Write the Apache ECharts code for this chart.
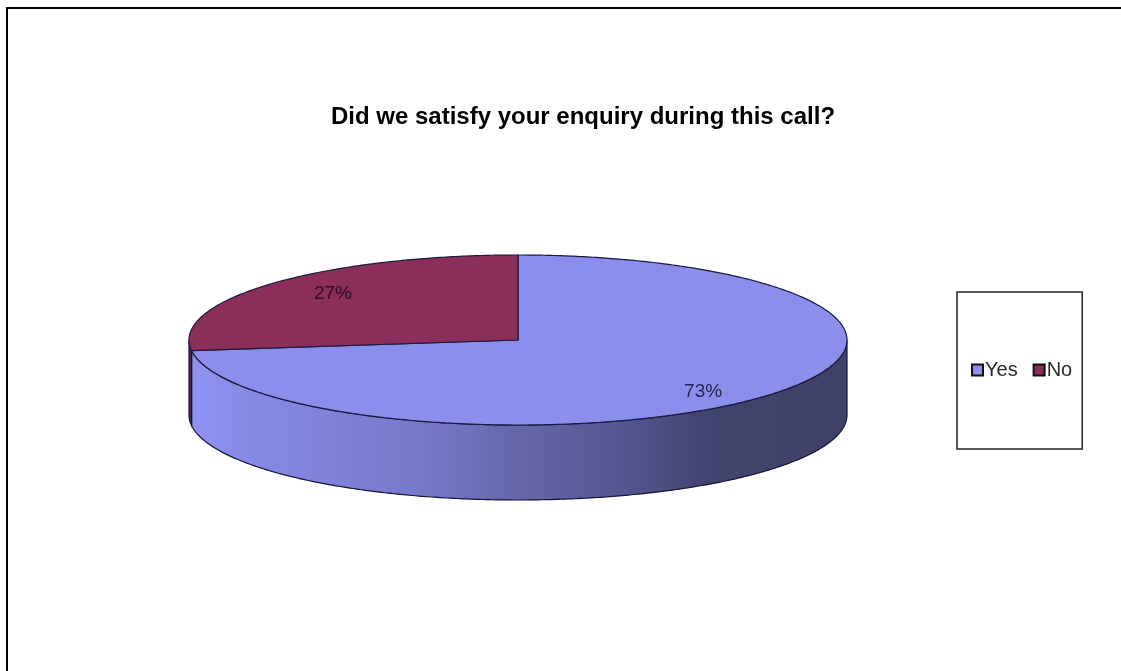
<!DOCTYPE html>
<html><head><meta charset="utf-8">
<style>html,body{margin:0;padding:0;background:#fff}#c{width:1121px;height:671px}</style>
<script src="https://cdn.jsdelivr.net/npm/echarts@6/dist/echarts.min.js"></script>
</head><body><div id="c"></div>
<script>
const categories = ['Yes', 'No'];
const shares = [73, 27];
const labels = ['73%', '27%'];
const colors = ['#8b8eea', '#8b2e5a'];
const wallStops = [
  [[0,'#8f92f0'],[0.12,'#8588e2'],[0.35,'#7779c9'],[0.5,'#6567aa'],[0.66,'#54568f'],[0.78,'#43446f'],[1,'#3f4066']],
  [[0,'#4a2a55'],[1,'#4a2a55']]
];
const CX = 518, CY = 340, RX = 329, RY = 85, DEPTH = 75;
const total = shares.reduce((a, b) => a + b, 0);

function pt(a, dy) { return [CX + RX * Math.sin(a), CY - RY * Math.cos(a) + (dy || 0)]; }
function arcPts(a0, a1, dy) {
  const n = Math.max(2, Math.ceil(Math.abs(a1 - a0) / 0.01)), out = [];
  for (let i = 0; i <= n; i++) out.push(pt(a0 + (a1 - a0) * i / n, dy));
  return out;
}
function renderSlice(idx) {
  return function () {
    const before = shares.slice(0, idx).reduce((a, b) => a + b, 0);
    const a0 = before / total * 2 * Math.PI, a1 = (before + shares[idx]) / total * 2 * Math.PI;
    const children = [];
    const w0 = Math.max(a0, Math.PI / 2), w1 = Math.min(a1, 3 * Math.PI / 2);
    if (w1 > w0) {
      const top = arcPts(w0, w1, 0), bot = arcPts(w1, w0, DEPTH);
      children.push({
        type: 'polygon', shape: { points: top.concat(bot) },
        style: {
          fill: { type: 'linear', x: CX - RX, y: 0, x2: CX + RX, y2: 0, global: true,
                  colorStops: wallStops[idx].map(s => ({ offset: s[0], color: s[1] })) },
          stroke: '#14143a', lineWidth: 1.2
        }
      });
    }
    children.push({
      type: 'polygon', shape: { points: [[CX, CY]].concat(arcPts(a0, a1, 0)) },
      style: { fill: colors[idx], stroke: '#1a1a40', lineWidth: 1.2 }
    });
    const mid = (a0 + a1) / 2;
    children.push({
      type: 'text', z2: 10,
      style: {
        text: labels[idx],
        x: CX + RX * 0.75 * Math.sin(mid), y: CY - RY * 0.87 * Math.cos(mid) + 3,
        fill: idx === 0 ? '#23264f' : '#2a0d24',
        font: '19px "Liberation Sans", Arial, sans-serif',
        align: 'center', verticalAlign: 'middle'
      }
    });
    return { type: 'group', children };
  };
}
const chart = echarts.init(document.getElementById('c'), null, { renderer: 'canvas' });
chart.setOption({
  animation: false,
  backgroundColor: '#fff',
  title: {
    text: 'Did we satisfy your enquiry during this call?',
    left: 578, top: 100, textAlign: 'center',
    textStyle: { fontFamily: '"Liberation Sans", Arial, sans-serif', fontWeight: 'bold', fontSize: 24, color: '#000' }
  },
  legend: {
    left: 957, top: 292,
    padding: [68, 10, 69, 14], itemGap: 15,
    itemWidth: 11, itemHeight: 11, icon: 'rect',
    borderColor: '#222', borderWidth: 1.5,
    data: categories,
    itemStyle: { borderColor: '#111', borderWidth: 2 },
    textStyle: { fontFamily: '"Liberation Sans", Arial, sans-serif', fontSize: 20, color: '#2a2a2a', padding: [0, 0, 0, -3] }
  },
  graphic: [{
    type: 'polyline', silent: true, z: -1,
    shape: { points: [[7, 671], [7, 8], [1121, 8]] },
    style: { fill: null, stroke: '#000', lineWidth: 2 }
  }],
  series: categories.map((name, i) => ({
    type: 'custom', name, coordinateSystem: 'none',
    data: [shares[i]], renderItem: renderSlice(i),
    itemStyle: { color: colors[i] }, silent: true
  }))
});
</script></body></html>
